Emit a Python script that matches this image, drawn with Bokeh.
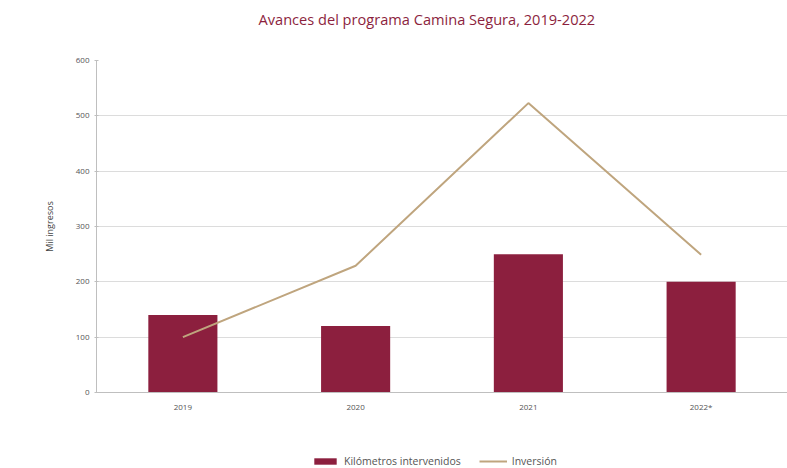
from bokeh.plotting import figure
from bokeh.layouts import column
from bokeh.models import Legend, LegendItem, Range1d, FixedTicker, Label
from bokeh.embed import file_html
from bokeh.resources import INLINE

title_text = "Avances del programa Camina Segura, 2019-2022"
years = ["2019", "2020", "2021", "2022*"]
km_intervenidos = [140, 120, 250, 200]
inversion = [100, 229, 523, 249]
y_ticks = [0, 100, 200, 300, 400, 500, 600]

BAR = "#8C1F3E"
LINE = "#BFA57E"
FONT = "Open Sans"


def strip(h):
    f = figure(width=787, height=h, output_backend="svg", toolbar_location=None,
               x_range=Range1d(0, 1), y_range=Range1d(0, 1), min_border=0)
    f.axis.visible = False
    f.grid.visible = False
    f.outline_line_color = None
    f.title.visible = False
    return f


# title strip
t = strip(36)
t.add_layout(Label(x=162, y=18, x_units="screen", y_units="screen", text=title_text,
                   text_font=FONT, text_font_size="14.6px", text_color=BAR,
                   text_baseline="middle", text_align="left"))

p = figure(x_range=years, y_range=Range1d(0, 600), width=787, height=400,
           output_backend="svg", toolbar_location=None,
           min_border_left=96, min_border_right=0, min_border_top=24,
           min_border_bottom=44)
p.title.visible = False

bars = p.vbar(x=years, top=km_intervenidos, width=0.4, fill_color=BAR, line_color=None)
ln = p.line(x=years, y=inversion, line_color=LINE, line_width=2)

p.x_range.range_padding = 0
p.outline_line_color = None
p.xgrid.grid_line_color = None
p.ygrid.grid_line_color = "#dcdcdc"
p.ygrid.grid_line_width = 1

p.yaxis.ticker = FixedTicker(ticks=y_ticks)
p.yaxis.axis_label = "Mil ingresos"
p.yaxis.axis_label_text_font = FONT
p.yaxis.axis_label_text_font_size = "9px"
p.yaxis.axis_label_text_font_style = "normal"
p.yaxis.axis_label_text_color = "#444444"
p.yaxis.axis_label_standoff = 17
p.yaxis.major_tick_in = 2
p.yaxis.major_tick_out = 2
p.yaxis.minor_tick_line_color = None

for ax in (p.xaxis, p.yaxis):
    ax.axis_line_color = "#bfbfbf"
    ax.major_tick_line_color = "#bfbfbf"
    ax.major_label_text_font = FONT
    ax.major_label_text_font_size = "8px"
    ax.major_label_text_color = "#555555"

p.xaxis.major_tick_line_color = None
p.xaxis.major_label_standoff = 2

# legend strip below the chart
q = strip(32)
lb = q.vbar(x=[5], top=[1], width=0.4, fill_color=BAR, line_color=None)
ll = q.line(x=[5, 6], y=[1, 1], line_color=LINE, line_width=2)

legend = Legend(items=[LegendItem(label="Kilómetros intervenidos", renderers=[lb]),
                       LegendItem(label="Inversión", renderers=[ll])],
                orientation="horizontal", location=(215, 0),
                border_line_color=None, background_fill_alpha=0,
                label_text_font=FONT, label_text_font_size="10.5px",
                label_text_color="#555555",
                glyph_width=28, glyph_height=8, spacing=18,
                padding=4, margin=0)
q.add_layout(legend)

open("out.html", "w").write(file_html(column(t, p, q, spacing=0), INLINE))
